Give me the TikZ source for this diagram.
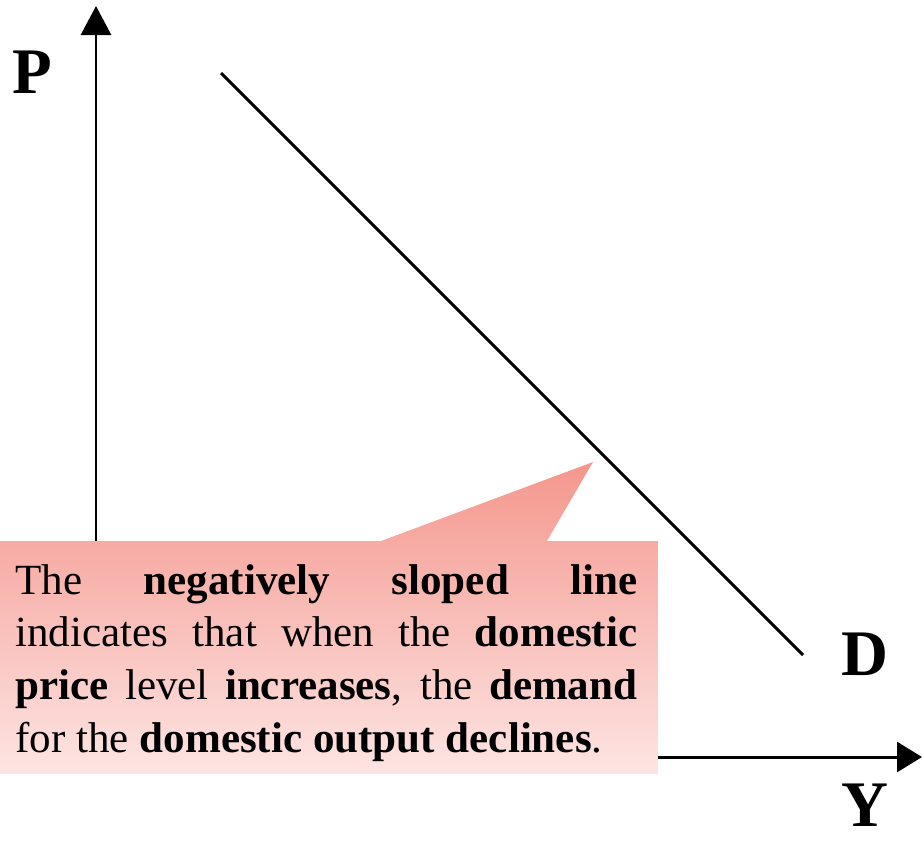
\documentclass[tikz,border=0pt]{standalone}
\usepackage{fontspec}
\setmainfont{Liberation Serif}
\usetikzlibrary{arrows.meta}
\definecolor{calloutTop}{HTML}{F4978D}
\definecolor{calloutBot}{HTML}{FDE5E3}

\begin{document}
\begin{tikzpicture}[x=0.02cm,y=-0.02cm,line width=1.7pt,
    axislabel/.style={font=\fontsize{37}{37}\selectfont\bfseries,anchor=base,inner sep=0pt},
    boxline/.style={font=\fontsize{24.5}{30}\selectfont,anchor=base west,inner sep=0pt}]
  \useasboundingbox (0,0) rectangle (922,843);
  % axes
  \coordinate (O) at (96,757);
  \coordinate (ytop) at (96,6);
  \coordinate (xend) at (922,757);
  \draw[-{Triangle[length=0.58cm,width=0.6cm]}] (O) -- (ytop);
  \draw[-{Triangle[length=0.5cm,width=0.6cm]}] (O) -- (xend);
  \node[axislabel] (P) at (32,93) {P};
  \node[axislabel] (Y) at (865,826) {Y};
  % demand curve
  \coordinate (d1) at (221,73);
  \coordinate (d2) at (803,655);
  \draw (d1) -- (d2);
  \node[axislabel] (D) at (865,675) {D};
  % callout
  \coordinate (tip) at (593,462);
  \shade[top color=calloutTop,bottom color=calloutBot]
    (0,541) -- (381,541) -- (tip) -- (547,541) -- (658,541)
    -- (658,774) -- (0,774) -- cycle;
  \foreach \i/\txt in {
     0/{\makebox[12.44cm][s]{The \textbf{negatively} \textbf{sloped} \textbf{line}}},
     1/{\makebox[12.44cm][s]{indicates that when the \textbf{domestic}}},
     2/{\makebox[12.44cm][s]{\textbf{price} level \textbf{increases}, the \textbf{demand}}},
     3/{for the \textbf{domestic output declines}.}}{
       \node[boxline] (line\i) at (14,594+\i*52.7) {\txt};
  }
\end{tikzpicture}
\end{document}
